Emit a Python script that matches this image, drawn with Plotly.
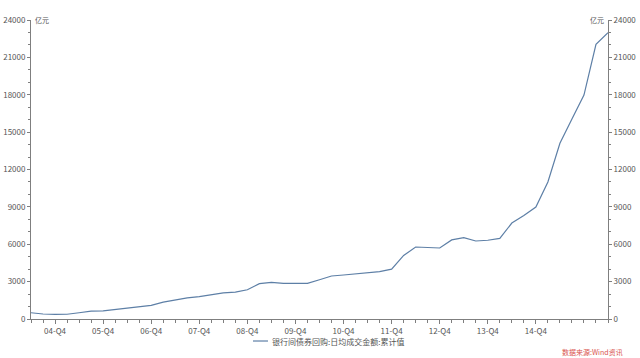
import plotly.graph_objects as go

# Quarterly series, 2004-Q2 .. 2016-Q2 (index 0..48)
quarter_index = list(range(49))
values = [500, 400, 370, 380, 500, 630, 660, 780, 900, 1000,
          1100, 1360, 1550, 1700, 1800, 1950, 2090, 2160, 2350, 2840,
          2940, 2860, 2850, 2860, 3150, 3450, 3530, 3620, 3770, 3800,
          4000, 5100, 5780, 5740, 5700, 6350, 6530, 6260, 6320, 6470,
          7700, 8300, 8990, 11000, 14100, 16050, 17970, 22050, 22980]
tick_pos = [2, 6, 10, 14, 18, 22, 26, 30, 34, 38, 42]
tick_text = ["04-Q4", "05-Q4", "06-Q4", "07-Q4", "08-Q4", "09-Q4",
             "10-Q4", "11-Q4", "12-Q4", "13-Q4", "14-Q4"]
y_ticks = [0, 3000, 6000, 9000, 12000, 15000, 18000, 21000, 24000]
y_tick_text = [str(v) for v in y_ticks]
series_name = "银行间债券回购:日均成交金额:累计值"

FONT = "Noto Sans CJK SC"
AX = "#7f7f7f"
TXT = "#555555"
LINE = "#5d7fa6"

fig = go.Figure()
fig.add_trace(go.Scatter(x=quarter_index, y=values, mode="lines",
                         name=series_name, showlegend=False,
                         line=dict(color=LINE, width=1.2)))
fig.add_trace(go.Scatter(x=quarter_index, y=values, mode="lines",
                         yaxis="y2", showlegend=False, hoverinfo="skip",
                         line=dict(color="rgba(0,0,0,0)", width=0)))

yax = dict(range=[0, 24000], tickvals=y_ticks, ticktext=y_tick_text,
           showgrid=False, zeroline=False, automargin=False,
           showline=True, linecolor=AX, linewidth=1, ticks="outside",
           ticklen=3, tickcolor=AX, tickfont=dict(family=FONT, size=8, color=TXT),
           minor=dict(ticks="outside", dtick=1000, tick0=0, ticklen=2, tickcolor=AX))

# manual legend (line sample + label) below the axis
leg_y = -0.0736
fig.add_shape(type="line", xref="paper", yref="paper", x0=0.3847, x1=0.4107,
              y0=leg_y, y1=leg_y, line=dict(color=LINE, width=1.2))

fig.update_layout(
    width=640, height=358,
    margin=dict(l=31, r=32, t=20, b=39),
    paper_bgcolor="white", plot_bgcolor="white",
    font=dict(family=FONT, size=8, color=TXT),
    xaxis=dict(range=[0, 48], tickvals=tick_pos, ticktext=tick_text,
               showgrid=False, zeroline=False, showline=True, linecolor=AX,
               automargin=False,
               linewidth=1, ticks="outside", ticklen=4, tickcolor=AX,
               tickfont=dict(family=FONT, size=8, color=TXT),
               minor=dict(ticks="outside", dtick=1, tick0=0, ticklen=3, tickcolor=AX)),
    yaxis=dict(side="left", **yax),
    yaxis2=dict(side="right", overlaying="y", **yax),
    showlegend=False,
    annotations=[
        dict(text=series_name, xref="paper", yref="paper", x=0.4142, y=leg_y,
             xanchor="left", yanchor="middle", showarrow=False,
             font=dict(family=FONT, size=8, color=TXT)),
        dict(text="亿元", xref="paper", yref="paper", x=0, y=1, xanchor="left",
             yanchor="middle", xshift=2, showarrow=False,
             font=dict(family=FONT, size=7, color=TXT)),
        dict(text="亿元", xref="paper", yref="paper", x=1, y=1, xanchor="right",
             yanchor="middle", xshift=-2, showarrow=False,
             font=dict(family=FONT, size=7, color=TXT)),
        dict(text="数据来源:Wind资讯", xref="paper", yref="paper", x=1.0295, y=-0.11,
             xanchor="right", yanchor="middle", showarrow=False,
             font=dict(family=FONT, size=7, color="#d9534f")),
    ],
)

fig.write_html("out.html")
